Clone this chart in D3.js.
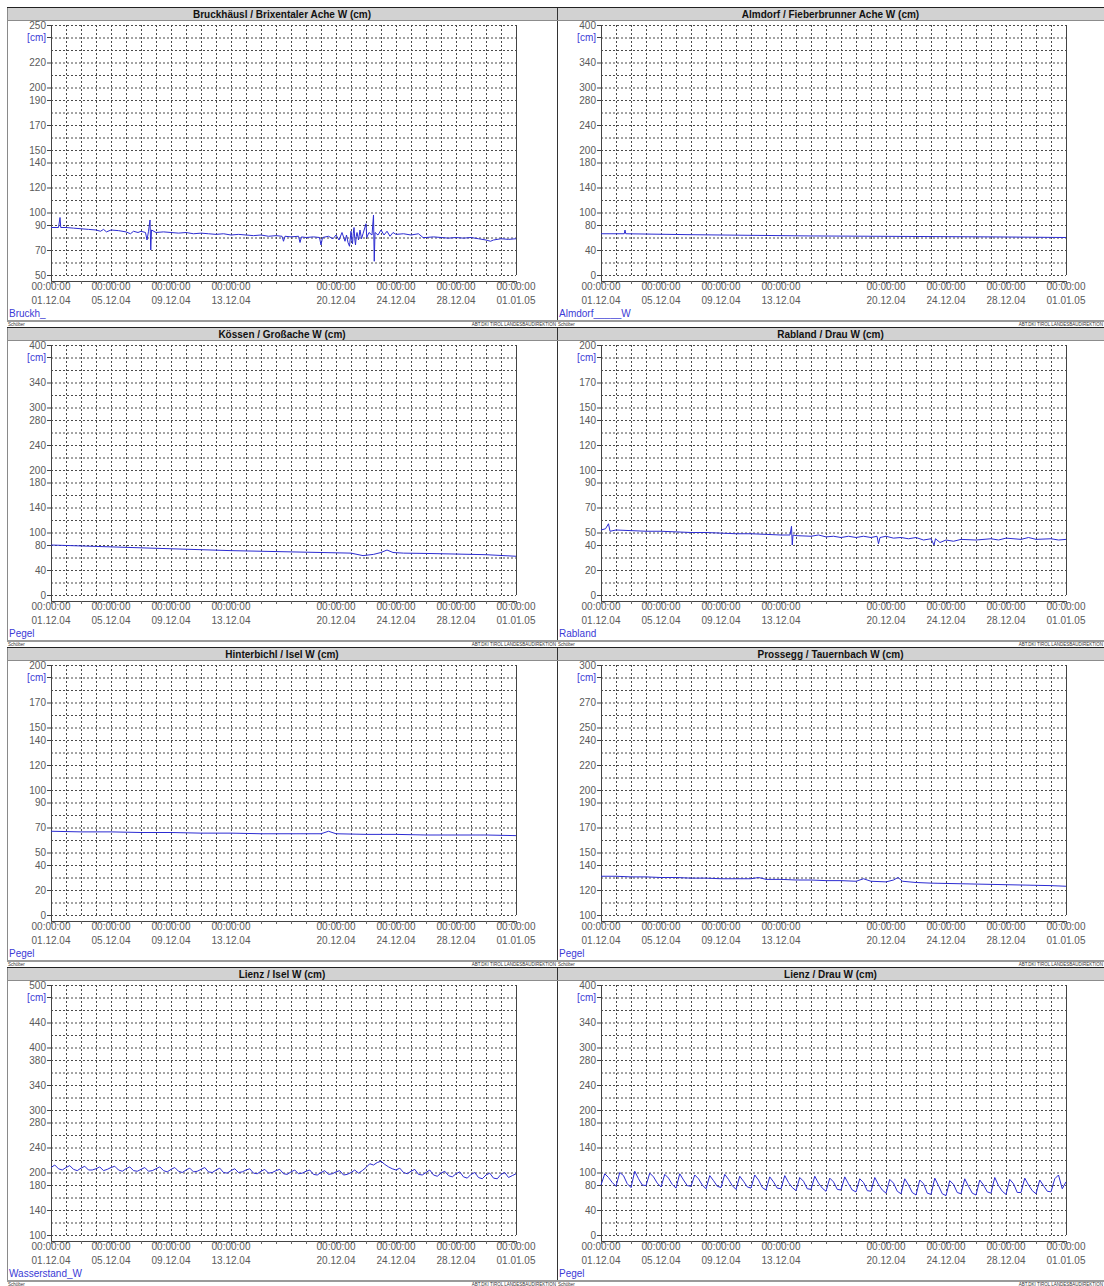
<!DOCTYPE html>
<html>
<head>
<meta charset="utf-8">
<script src="https://cdn.jsdelivr.net/npm/d3@7"></script>
<style>
  body { margin: 0; background: #fff; }
  svg { display: block; font-family: "Liberation Sans", Arial, sans-serif; }
</style>
</head>
<body>
<svg id="chart" width="1104" height="1286"></svg>
<script>
// ---- station titles and series names ----
const titles = [
  "Bruckhäusl / Brixentaler Ache W (cm)",
  "Almdorf / Fieberbrunner Ache W (cm)",
  "Kössen / Großache W (cm)",
  "Rabland / Drau W (cm)",
  "Hinterbichl / Isel W (cm)",
  "Prossegg / Tauernbach W (cm)",
  "Lienz / Isel W (cm)",
  "Lienz / Drau W (cm)"
];
const seriesNames = ["Bruckh_", "Almdorf_____W", "Pegel", "Rabland", "Pegel", "Pegel", "Wasserstand_W", "Pegel"];

// ---- y ranges and labelled ticks ----
const yDomains = [[50, 250], [0, 400], [0, 400], [0, 200], [0, 200], [100, 300], [100, 500], [0, 400]];
const yTickLabels = [
  [250, 220, 200, 190, 170, 150, 140, 120, 100, 90, 70, 50],
  [400, 340, 300, 280, 240, 200, 180, 140, 100, 80, 40, 0],
  [400, 340, 300, 280, 240, 200, 180, 140, 100, 80, 40, 0],
  [200, 170, 150, 140, 120, 100, 90, 70, 50, 40, 20, 0],
  [200, 170, 150, 140, 120, 100, 90, 70, 50, 40, 20, 0],
  [300, 270, 250, 240, 220, 200, 190, 170, 150, 140, 120, 100],
  [500, 440, 400, 380, 340, 300, 280, 240, 200, 180, 140, 100],
  [400, 340, 300, 280, 240, 200, 180, 140, 100, 80, 40, 0]
];
const unitLabel = "[cm]";

// ---- x axis labels ----
const xTickDates = ["01.12.04", "05.12.04", "09.12.04", "13.12.04", "20.12.04", "24.12.04", "28.12.04", "01.01.05"];
const xTickTime = "00:00:00";
const periodStart = "01.12.04";
const periodEnd = "01.01.05";

// ---- water levels: [day since 01.12.04 00:00, cm] ----
const bruckhaeusl = [
  [0,88],[0.5,88],[0.6,96],[0.65,88],[1,88],[1.5,87.5],[2,87],[2.5,86.5],[3,86],[3.3,85],[3.5,86.5],[3.7,84.5],
  [4,86],[4.5,85.5],[5,84.5],[5.3,83],[5.5,85],[5.8,84],[6,85],[6.3,84],[6.4,78],[6.5,85],[6.6,94],[6.65,70],
  [6.7,86],[7,84],[7.5,84.5],[8,84],[8.5,83.5],[9,84],[9.5,83],[10,83.5],[10.5,83],[11,82.5],[11.5,83],[12,82],
  [12.5,82.5],[13,82],[13.5,81.5],[14,82],[14.5,81],[15,81.5],[15.4,81],[15.5,77],[15.6,81],[16,80.5],[16.5,81],
  [16.6,76],[16.7,80.5],[17,80],[17.5,80.5],[17.9,80],[18,74],[18.1,80],[18.5,81],[18.8,79],[19,82],[19.2,78],
  [19.4,84],[19.6,77],[19.7,82],[19.8,76],[19.9,73],[20,85],[20.05,78],[20.1,75],[20.15,83],[20.2,88],[20.25,79],
  [20.3,74],[20.35,81],[20.4,84],[20.5,78],[20.6,86],[20.7,79],[20.8,83],[21,91],[21.05,80],[21.2,84],[21.4,82],
  [21.5,98],[21.55,61],[21.6,84],[21.8,82],[22,86],[22.2,82],[22.4,85],[22.6,81],[22.8,84],[23,82.5],[23.5,83],
  [24,82],[24.5,83],[24.8,80],[25,80],[25.5,80.5],[26,80],[26.5,79.5],[27,80],[27.5,79.5],[28,80],[28.5,79],
  [29,78],[29.3,77],[29.5,78],[30,79],[30.5,78.5],[31,79]
];
const almdorf = [
  [0,66],[1,66],[1.55,66],[1.6,72],[1.65,66],[3,65.5],[6,64.5],[10,63.5],[14,62.5],[18,62],[22,61.5],[26,61],[31,60]
];
const koessen = [
  [0,80],[2,78.5],[4,77],[6,75.5],[8,74],[10,72.5],[12,71],[14,70],[16,69],[18,68],[20,67],[20.8,63],[21.5,65],
  [22,68],[22.4,72],[22.8,68],[23.5,67],[25,66.5],[27,65.5],[29,64.5],[31,62]
];
const rabland = [
  [0,52],[0.3,53],[0.5,57],[0.6,51],[1,52],[2,51.5],[3,51],[4,51],[5,50.5],[6,50],[7,50],[8,49.5],[9,49],[10,49],
  [11,48.5],[12,48],[12.6,48],[12.7,55],[12.75,40],[12.8,48],[13,47.5],[14,47],[14.5,48],[15,46.5],[15.5,47],
  [16,46],[16.5,47],[17,46],[17.5,47],[18,46],[18.4,47],[18.5,41],[18.6,46],[19,47],[19.5,45.5],[20,46],[20.5,45],
  [21,46],[21.5,44],[22,45],[22.2,40],[22.3,45],[22.6,42],[23,44],[23.5,43],[24,44.5],[25,44],[26,45],[26.5,44],
  [27,45.5],[28,44.5],[28.5,46],[29,44.5],[30,45],[30.5,44],[31,44.5]
];
const hinterbichl = [
  [0,67],[2,66.5],[4,66.5],[6,66],[8,66],[10,65.5],[12,65.5],[14,65],[16,65],[18,65],[18.5,67],[19,65],[21,64.5],
  [23,64.5],[25,64],[27,64],[29,64],[31,63.5]
];
const prossegg = [
  [0,131],[1,131],[2,130.5],[3,130.5],[4,130],[5,130],[6,129.5],[7,129.5],[8,129],[9,129],[10,129],[10.5,130],
  [11,128.5],[12,128.5],[13,128],[14,128],[15,127.5],[16,127.5],[17,127],[17.5,129],[18,127],[19,126.5],
  [19.5,128],[19.8,130],[20.1,127],[21,126],[22,125.5],[24,125],[26,124.5],[28,124],[30,123.5],[31,123]
];
// six-hourly readings (00, 06, 12, 18 h)
const lienzIsel6h = [
  208,212,206,204, 208,211,205,203, 207,210,204,204, 206,209,203,205, 208,210,204,202,
  206,209,203,202, 205,208,202,203, 206,209,203,201, 205,208,202,200, 204,207,201,202,
  205,208,201,200, 204,207,200,199, 203,206,200,201, 204,206,199,198, 202,205,199,200,
  203,205,198,197, 201,204,198,199, 202,204,197,196, 200,203,197,198, 201,203,196,197,
  200,204,199,203, 208,214,212,216, 218,213,209,206, 204,207,200,198, 202,205,197,196,
  200,204,196,194, 199,202,195,193, 198,201,193,191, 197,200,192,190, 196,199,191,190,
  197,200,192,195, 198
];
const lienzDrau6h = [
  80,98,92,84, 78,100,95,82, 76,102,90,80, 79,99,93,83, 77,97,91,81,
  75,98,88,79, 78,96,90,80, 74,95,87,78, 76,97,89,79, 73,94,86,77,
  75,96,88,76, 72,93,85,75, 74,95,84,76, 71,92,86,74, 73,94,83,75,
  70,91,85,73, 72,93,82,72, 69,90,84,71, 70,92,81,72, 67,89,83,70,
  66,90,80,68, 64,88,82,67, 65,91,79,66, 63,87,81,68, 66,90,78,67,
  64,88,80,69, 67,92,79,70, 65,89,82,68, 68,91,80,71, 66,88,79,70,
  69,90,96,74, 85
];
const footerLeft = "Schöber";
const footerRight = "ABT.DKI TIROL LANDESBAUDIREKTION";

// ---- build panel table ----
const sixHourly = arr => arr.map((v, i) => [i * 0.25, v]);
const seriesData = [bruckhaeusl, almdorf, koessen, rabland, hinterbichl, prossegg, sixHourly(lienzIsel6h), sixHourly(lienzDrau6h)];
const panels = titles.map((t, i) => ({
  title: t, name: seriesNames[i], domain: yDomains[i], ticks: yTickLabels[i], data: seriesData[i]
}));

const parseDate = d3.utcParse("%d.%m.%y");
const t0 = parseDate(periodStart), t1 = parseDate(periodEnd);
const atDay = d => new Date(t0.getTime() + d * 864e5);

// ---- layout ----
const ROW_PITCH = 320, TOP = 7;
const PLOT_W = 465, PLOT_H = 250;
const svg = d3.select("#chart");
const GRID = "#4a4a4a", TXT = "#5a5a5a", BLUE = "#3b3bd6", LINE = "#2c2cd2";

panels.forEach((p, i) => {
  const col = i % 2, row = Math.floor(i / 2);
  const fx = col === 0 ? 7 : 557;
  const fw = col === 0 ? 550 : 547;
  const fy = TOP + row * ROW_PITCH;
  const g = svg.append("g").attr("transform", `translate(${fx},${fy})`);

  // frame
  g.append("line").attr("x1", 0.5).attr("x2", 0.5).attr("y1", 0).attr("y2", 314)
    .attr("stroke", col === 0 ? "#8a8a8a" : "#333").attr("stroke-width", 1);
  g.append("line").attr("x1", 0).attr("x2", fw).attr("y1", 314).attr("y2", 314)
    .attr("stroke", "#9a9a9a").attr("stroke-width", 2);

  // title bar
  g.append("rect").attr("x", 1).attr("y", 0).attr("width", fw - 1).attr("height", 13).attr("fill", "#d2d2d2");
  g.append("line").attr("x1", 0).attr("x2", fw).attr("y1", 0.5).attr("y2", 0.5).attr("stroke", "#222");
  g.append("line").attr("x1", 0).attr("x2", fw).attr("y1", 13.5).attr("y2", 13.5).attr("stroke", "#8c8c8c");
  g.append("text").attr("x", fw / 2).attr("y", 10.5).attr("text-anchor", "middle")
    .attr("font-size", 10).attr("font-weight", "bold").attr("fill", "#111").text(p.title);

  // footer
  g.append("text").attr("x", 1).attr("y", 319).attr("font-size", 4.5).attr("fill", "#333").text(footerLeft);
  g.append("text").attr("x", fw - 1).attr("y", 319).attr("text-anchor", "end")
    .attr("font-size", 4.5).attr("fill", "#333").text(footerRight);

  // series name
  g.append("text").attr("x", 2).attr("y", 310).attr("font-size", 10).attr("fill", BLUE).text(p.name);

  // plot area
  const pg = g.append("g").attr("transform", `translate(44,18)`);
  const x = d3.scaleUtc().domain([t0, t1]).range([0, PLOT_W]);
  const y = d3.scaleLinear().domain(p.domain).range([PLOT_H, 0]);
  const step = (p.domain[1] - p.domain[0]) / 20;
  const gridVals = d3.range(21).map(k => p.domain[0] + k * step);
  const days = d3.utcDay.range(t0, d3.utcDay.offset(t1, 1));

  // horizontal grid
  pg.append("g").call(d3.axisLeft(y).tickValues(gridVals).tickSize(-PLOT_W).tickFormat(""))
    .call(a => a.select(".domain").remove())
    .selectAll("line").attr("stroke", GRID).attr("stroke-dasharray", "2,2");
  // vertical grid
  pg.append("g").attr("transform", `translate(0,${PLOT_H})`)
    .call(d3.axisBottom(x).tickValues(days).tickSize(-PLOT_H).tickFormat(""))
    .call(a => a.select(".domain").remove())
    .selectAll("line").attr("stroke", GRID).attr("stroke-dasharray", "2,2");

  // y labels
  const yAx = pg.append("g").call(d3.axisLeft(y).tickValues(p.ticks).tickSize(4).tickPadding(1).tickFormat(d3.format("d")));
  yAx.select(".domain").remove();
  yAx.selectAll("line").attr("stroke", "#444");
  yAx.selectAll("text").attr("font-size", 10).attr("fill", TXT).attr("font-family", "Liberation Sans, Arial, sans-serif");
  // unit label on second grid line
  const yUnit = y(p.domain[1] - step);
  pg.append("line").attr("x1", -4).attr("x2", 0).attr("y1", yUnit).attr("y2", yUnit).attr("stroke", "#444");
  pg.append("text").attr("x", -5).attr("y", yUnit).attr("dy", "0.35em").attr("text-anchor", "end")
    .attr("font-size", 10).attr("fill", BLUE).text(unitLabel);

  // axes lines
  pg.append("line").attr("x1", 0.5).attr("x2", 0.5).attr("y1", 0).attr("y2", PLOT_H + 6).attr("stroke", "#444");
  pg.append("line").attr("x1", PLOT_W + 0.5).attr("x2", PLOT_W + 0.5).attr("y1", 0).attr("y2", PLOT_H).attr("stroke", "#444");
  const xAx = pg.append("g").attr("transform", `translate(0,${PLOT_H + 6})`)
    .call(d3.axisBottom(x).tickValues(days).tickSize(3).tickSizeOuter(0).tickFormat(""));
  xAx.select(".domain").attr("stroke", "#444");
  xAx.selectAll("line").attr("stroke", "#666");

  // x labels (time + date)
  const xl = pg.append("g").selectAll("g").data(xTickDates).join("g")
    .attr("transform", d => `translate(${x(parseDate(d))},0)`);
  xl.append("text").attr("y", PLOT_H + 15).attr("text-anchor", "middle").attr("font-size", 10).attr("fill", TXT).text(xTickTime);
  xl.append("text").attr("y", PLOT_H + 29).attr("text-anchor", "middle").attr("font-size", 10).attr("fill", TXT).text(d => d);

  // data line
  const line = d3.line().x(d => x(atDay(d[0]))).y(d => y(d[1]));
  pg.append("path").datum(p.data).attr("d", line).attr("fill", "none").attr("stroke", LINE).attr("stroke-width", 1);
});
</script>
</body>
</html>
